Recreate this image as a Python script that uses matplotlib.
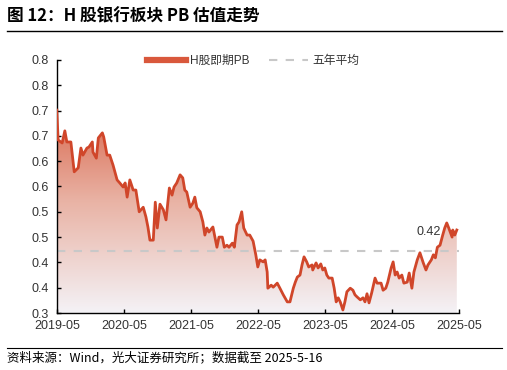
import matplotlib
matplotlib.use('Agg')
import matplotlib.pyplot as plt
import numpy as np
from matplotlib.colors import LinearSegmentedColormap
from matplotlib.lines import Line2D

plt.rcParams['font.family'] = ['Liberation Sans', 'Noto Sans CJK SC', 'DejaVu Sans']

# 时间（小数年）与H股银行板块PB
dates = [2019.33, 2019.35, 2019.41, 2019.45, 2019.48, 2019.54, 2019.59, 2019.65, 2019.69, 2019.72,
         2019.78, 2019.81, 2019.86, 2019.87, 2019.92, 2019.95, 2020.01, 2020.03, 2020.08, 2020.12,
         2020.17, 2020.23, 2020.27, 2020.32, 2020.35, 2020.38, 2020.42, 2020.47, 2020.51, 2020.56,
         2020.62, 2020.66, 2020.69, 2020.72, 2020.77, 2020.80, 2020.83, 2020.87, 2020.92, 2020.96,
         2021.01, 2021.05, 2021.08, 2021.12, 2021.17, 2021.21, 2021.24, 2021.27, 2021.32, 2021.36,
         2021.39, 2021.42, 2021.47, 2021.51, 2021.54, 2021.57, 2021.60, 2021.66, 2021.69, 2021.72,
         2021.75, 2021.80, 2021.83, 2021.87, 2021.90, 2021.95, 2021.98, 2022.02, 2022.05, 2022.09,
         2022.12, 2022.17, 2022.21, 2022.26, 2022.30, 2022.33, 2022.36, 2022.41, 2022.44, 2022.47,
         2022.48, 2022.53, 2022.56, 2022.62, 2022.66, 2022.71, 2022.77, 2022.81, 2022.86, 2022.89,
         2022.92, 2022.96, 2022.99, 2023.02, 2023.06, 2023.09, 2023.14, 2023.15, 2023.20, 2023.23,
         2023.27, 2023.30, 2023.33, 2023.36, 2023.39, 2023.44, 2023.47, 2023.50, 2023.53, 2023.56,
         2023.60, 2023.63, 2023.66, 2023.71, 2023.75, 2023.78, 2023.81, 2023.86, 2023.90, 2023.93,
         2023.96, 2023.99, 2024.03, 2024.08, 2024.11, 2024.17, 2024.20, 2024.24, 2024.27, 2024.32,
         2024.35, 2024.38, 2024.41, 2024.44, 2024.48, 2024.51, 2024.56, 2024.59, 2024.63, 2024.66,
         2024.71, 2024.75, 2024.80, 2024.84, 2024.87, 2024.92, 2024.95, 2024.98, 2025.01, 2025.05,
         2025.09, 2025.12, 2025.15, 2025.18, 2025.23, 2025.24, 2025.27, 2025.30]
pb = [0.701, 0.642, 0.636, 0.660, 0.638, 0.638, 0.579, 0.587, 0.626, 0.612,
      0.626, 0.628, 0.638, 0.618, 0.606, 0.646, 0.656, 0.648, 0.612, 0.612,
      0.592, 0.563, 0.557, 0.549, 0.557, 0.529, 0.563, 0.543, 0.543, 0.500,
      0.509, 0.490, 0.470, 0.444, 0.444, 0.519, 0.468, 0.515, 0.504, 0.484,
      0.547, 0.533, 0.549, 0.557, 0.573, 0.567, 0.543, 0.539, 0.509, 0.517,
      0.529, 0.508, 0.500, 0.480, 0.454, 0.468, 0.460, 0.470, 0.450, 0.430,
      0.450, 0.450, 0.430, 0.434, 0.430, 0.438, 0.430, 0.474, 0.480, 0.500,
      0.468, 0.454, 0.454, 0.442, 0.415, 0.391, 0.405, 0.401, 0.405, 0.381,
      0.349, 0.355, 0.351, 0.359, 0.349, 0.336, 0.322, 0.322, 0.349, 0.361,
      0.371, 0.375, 0.395, 0.411, 0.401, 0.391, 0.395, 0.385, 0.399, 0.389,
      0.397, 0.385, 0.389, 0.375, 0.369, 0.369, 0.349, 0.322, 0.330, 0.322,
      0.306, 0.322, 0.342, 0.349, 0.345, 0.336, 0.332, 0.326, 0.330, 0.322,
      0.338, 0.320, 0.340, 0.369, 0.359, 0.359, 0.345, 0.349, 0.361, 0.389,
      0.401, 0.375, 0.381, 0.369, 0.375, 0.359, 0.361, 0.379, 0.349, 0.381,
      0.405, 0.419, 0.399, 0.385, 0.395, 0.405, 0.415, 0.409, 0.430, 0.434,
      0.454, 0.468, 0.478, 0.468, 0.450, 0.464, 0.454, 0.464]
avg5 = 0.4225
label_last = '0.42'

xtick_pos = [2019.333, 2020.333, 2021.333, 2022.333, 2023.333, 2024.333, 2025.333]
xtick_labels = ['2019-05', '2020-05', '2021-05', '2022-05', '2023-05', '2024-05', '2025-05']
ytick_pos = [0.30, 0.35, 0.40, 0.45, 0.50, 0.55, 0.60, 0.65, 0.70, 0.75, 0.80]
ytick_labels = ['0.3', '0.4', '0.4', '0.5', '0.5', '0.6', '0.6', '0.7', '0.7', '0.8', '0.8']

fig = plt.figure(figsize=(5.07, 3.70), dpi=100)
ax = fig.add_axes([57 / 507, 1 - 313 / 370, 402 / 507, 253 / 370])

x0, x1 = 2019.333, 2025.333
y0, y1 = 0.30, 0.80
ax.set_xlim(x0, x1)
ax.set_ylim(y0, y1)

# 渐变填充
cmap = LinearSegmentedColormap.from_list('g', ['#F4F2F6', '#E9B3A5', '#D65A3E'])
grad = np.linspace(0, 1, 256).reshape(-1, 1)
img = ax.imshow(grad, cmap=cmap, aspect='auto', origin='lower',
                extent=[x0, x1, y0, 0.74], zorder=1)
poly = ax.fill_between(dates, pb, y0, color='none', zorder=1)
img.set_clip_path(poly.get_paths()[0], transform=ax.transData)

ax.plot(dates, pb, color='#D0462A', lw=2, zorder=3)
ax.axhline(avg5, color='#C8C8C8', lw=1.5, dashes=(4, 4), zorder=2)

ax.text(2025.06, 0.46, label_last, ha='right', va='center', fontsize=9, color='#333333', zorder=4)

ax.set_xticks(xtick_pos)
ax.set_xticklabels(xtick_labels)
ax.set_yticks(ytick_pos)
ax.set_yticklabels(ytick_labels)
ax.tick_params(axis='both', direction='in', length=3, width=1, labelsize=9, labelcolor='#333333')
ax.tick_params(axis='x', pad=5)
ax.tick_params(axis='y', pad=6)
for s in ['top', 'right']:
    ax.spines[s].set_visible(False)
for s in ['left', 'bottom']:
    ax.spines[s].set_color('black')
    ax.spines[s].set_linewidth(1)

handles = [Line2D([0], [0], color='#D9583C', lw=4.5),
           Line2D([0], [0], color='#C8C8C8', lw=1.5, dashes=(4, 4))]
ax.legend(handles, ['H股即期PB', '五年平均'], loc='center', bbox_to_anchor=(0.488, 0.995),
          ncol=2, frameon=False, fontsize=8.5, handlelength=3.3, columnspacing=1.6,
          handletextpad=0.4, labelcolor='#333333')

# 标题与来源
fig.text(7 / 507, 1 - 16 / 370, '图 12：H 股银行板块 PB 估值走势', fontsize=12, fontweight='bold',
         ha='left', va='center', family=['Noto Sans CJK SC', 'DejaVu Sans'])
fig.add_artist(Line2D([7 / 507, 502 / 507], [1 - 31 / 370, 1 - 31 / 370], color='black', lw=1))
fig.add_artist(Line2D([7 / 507, 502 / 507], [1 - 348 / 370, 1 - 348 / 370], color='black', lw=0.8))
fig.text(7 / 507, 1 - 358 / 370, '资料来源：Wind，光大证券研究所；数据截至 2025-5-16', fontsize=9,
         ha='left', va='center', family=['Noto Sans CJK SC', 'DejaVu Sans'])

fig.savefig('out.png', dpi=100)
